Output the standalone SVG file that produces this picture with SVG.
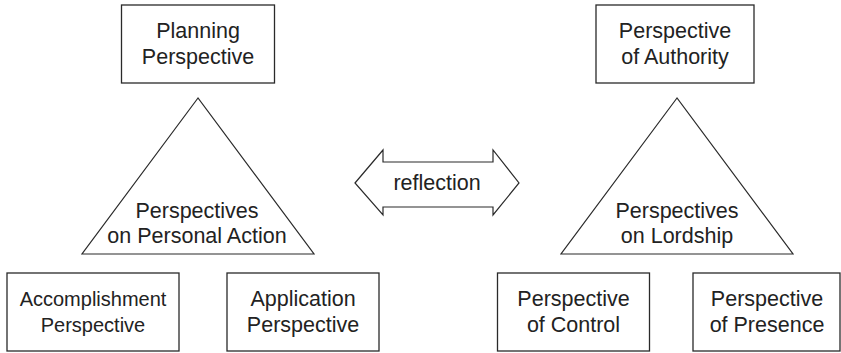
<svg xmlns="http://www.w3.org/2000/svg" width="841" height="353" viewBox="0 0 841 353">
<style>
.box{fill:#fff;stroke:#2a2a2a;stroke-width:1.3}
.tri{fill:#fff;stroke:#2a2a2a;stroke-width:1.2}
text{font-family:"Liberation Sans",Arial,sans-serif;font-size:21.5px;fill:#222;text-anchor:middle}
.sm{font-size:20px}
</style>
<rect width="841" height="353" fill="#fff"/>
<g id="planning">
<rect class="box" x="121.5" y="5" width="153" height="78"/>
<text x="198" y="38">Planning</text>
<text x="198" y="64">Perspective</text>
</g>
<g id="personal-action">
<polygon class="tri" points="198,98 82,254 314,254"/>
<text x="197" y="218">Perspectives</text>
<text x="197" y="243">on Personal Action</text>
</g>
<g id="accomplishment">
<rect class="box" x="7" y="273" width="172" height="78"/>
<text class="sm" x="93" y="306">Accomplishment</text>
<text class="sm" x="93" y="332">Perspective</text>
</g>
<g id="application">
<rect class="box" x="227" y="273" width="152" height="78"/>
<text x="303" y="306">Application</text>
<text x="303" y="332">Perspective</text>
</g>
<g id="reflection">
<polygon class="tri" points="355,183 383,150 383,162 493,162 493,150 519,183 493,215 493,207 383,207 383,215"/>
<text x="437" y="190">reflection</text>
</g>
<g id="authority">
<rect class="box" x="596" y="5" width="158" height="78"/>
<text x="675" y="38">Perspective</text>
<text x="675" y="64">of Authority</text>
</g>
<g id="lordship">
<polygon class="tri" points="677,98 561,254 793,254"/>
<text x="677" y="218">Perspectives</text>
<text x="677" y="243">on Lordship</text>
</g>
<g id="control">
<rect class="box" x="497.5" y="273" width="152" height="78"/>
<text x="573.5" y="306">Perspective</text>
<text x="573.5" y="332">of Control</text>
</g>
<g id="presence">
<rect class="box" x="693" y="273" width="147" height="78"/>
<text x="767" y="306">Perspective</text>
<text x="767" y="332">of Presence</text>
</g>
<g id="connectors"></g>
</svg>
